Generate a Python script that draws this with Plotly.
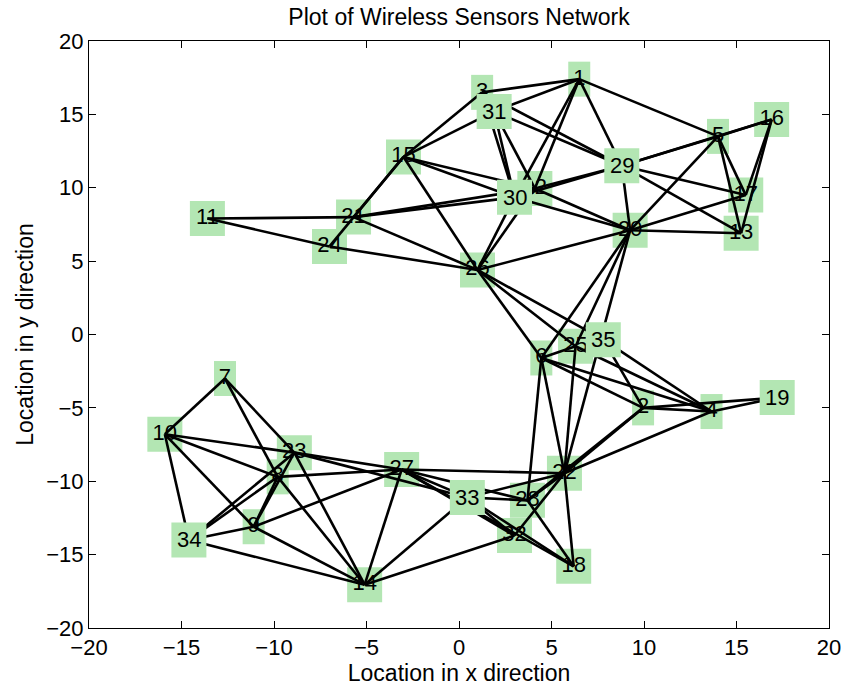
import plotly.graph_objects as go

# ---- data -------------------------------------------------------------
node_ids = list(range(1, 36))
node_x = [6.5, 9.95, 1.25, 13.65, 14.0, 4.45, -12.65, -9.8, -11.1, -15.9,
          -13.6, 4.1, 15.25, -5.1, -3.0, 16.9, 15.5, 6.2, 17.2, 9.25,
          -5.7, 5.7, -8.9, -7.0, 6.3, 1.0, -3.1, 3.7, 8.8, 3.0,
          1.9, 3.0, 0.45, -14.6, 7.8]
node_y = [17.4, -5.0, 16.5, -5.25, 13.5, -1.6, -3.0, -9.7, -13.1, -6.8,
          7.9, 9.95, 6.9, -17.05, 12.1, 14.65, 9.5, -15.8, -4.3, 7.1,
          8.0, -9.45, -8.05, 6.0, -0.8, 4.4, -9.2, -11.3, 11.5, 9.35,
          15.2, -13.7, -11.1, -14.0, -0.35]

edges_from = [1, 1, 1, 1, 1, 1, 3, 3, 3, 31, 31, 31, 31,
              29, 29, 29, 29, 29, 29, 29,
              20, 20, 20, 20, 20, 20, 20, 20, 20,
              5, 5, 5, 16, 16,
              11, 11, 21, 24, 21, 21, 21, 24,
              15, 15, 15,
              26, 26, 26, 26, 26,
              6, 6, 6, 6, 6,
              25, 25, 35, 35,
              2, 2, 4, 2, 2, 4,
              22, 22, 22, 22, 22,
              33, 33, 33, 33, 33, 33,
              32, 32, 28, 28, 27,
              7, 7, 7, 10, 10, 10, 10,
              34, 34, 34, 34,
              8, 23, 8, 8, 9, 9, 23, 23, 27]
edges_to = [3, 31, 29, 5, 30, 12, 15, 29, 30, 15, 29, 30, 12,
            12, 30, 5, 16, 17, 13, 20,
            12, 30, 5, 17, 13, 26, 6, 25, 22,
            16, 17, 13, 17, 13,
            21, 24, 15, 15, 30, 12, 26, 26,
            30, 12, 26,
            30, 12, 6, 25, 35,
            25, 2, 4, 28, 22,
            22, 4, 2, 4,
            4, 19, 19, 22, 28, 22,
            27, 33, 18, 32, 28,
            28, 32, 18, 27, 23, 14,
            14, 27, 27, 18, 18,
            10, 23, 8, 23, 8, 9, 34,
            23, 8, 9, 14,
            9, 9, 27, 14, 27, 14, 27, 14, 14]

# nodes whose label box sits on top of the links
top_nodes = [29, 30, 31, 33, 34, 35, 19]

# ---- figure -----------------------------------------------------------
FONT = "Liberation Sans, Arial, Helvetica, sans-serif"
BOX = "rgb(179,230,179)"
LABEL_SIZE = 22

lx, ly = [], []
for a, b in zip(edges_from, edges_to):
    lx += [node_x[a - 1], node_x[b - 1], None]
    ly += [node_y[a - 1], node_y[b - 1], None]

low = [n for n in node_ids if n not in top_nodes]

fig = go.Figure()
# labels of the lower nodes (drawn under the links)
fig.add_trace(go.Scatter(
    x=[node_x[n - 1] for n in low], y=[node_y[n - 1] for n in low],
    text=[str(n) for n in low], mode="text", textposition="middle center",
    textfont=dict(family=FONT, size=LABEL_SIZE, color="black"),
    hoverinfo="skip", showlegend=False))
# links
fig.add_trace(go.Scatter(x=lx, y=ly, mode="lines",
                         line=dict(color="black", width=2.6),
                         hoverinfo="skip", showlegend=False))

shapes = []
annotations = []
for n in low + top_nodes:
    half = 11 if n < 10 else 17.5
    shapes.append(dict(
        type="rect", xref="x", yref="y",
        xsizemode="pixel", ysizemode="pixel",
        xanchor=node_x[n - 1], yanchor=node_y[n - 1],
        x0=-half, x1=half, y0=-17.5, y1=17.5,
        fillcolor=BOX, line=dict(width=0),
        layer="above" if n in top_nodes else "below",
    ))
for n in top_nodes:
    annotations.append(dict(
        x=node_x[n - 1], y=node_y[n - 1], xref="x", yref="y",
        text=str(n), showarrow=False, xanchor="center", yanchor="middle",
        font=dict(family=FONT, size=LABEL_SIZE, color="black")))

fig.update_layout(
    width=848, height=689,
    margin=dict(l=89, r=19, t=41, b=61, autoexpand=False),
    paper_bgcolor="white", plot_bgcolor="white",
    font=dict(family=FONT, size=22, color="black"),
    shapes=shapes, annotations=annotations,
    title=dict(text="Plot of Wireless Sensors Network", x=0.5, xref="paper",
               xanchor="center", y=0.976, yanchor="middle",
               font=dict(size=23)),
    showlegend=False,
)
axis_common = dict(range=[-20, 20], dtick=5, tick0=-20, showgrid=False,
                   zeroline=False, showline=True, linecolor="black",
                   linewidth=1, mirror="ticks", ticks="inside", ticklen=7,
                   tickcolor="black", tickfont=dict(size=22), automargin=False)
fig.update_xaxes(**axis_common,
                 title=dict(text="Location in x direction", standoff=4,
                            font=dict(size=23)))
fig.update_yaxes(**axis_common,
                 title=dict(text="Location in y direction", standoff=6,
                            font=dict(size=23)))

fig.write_html("out.html")
